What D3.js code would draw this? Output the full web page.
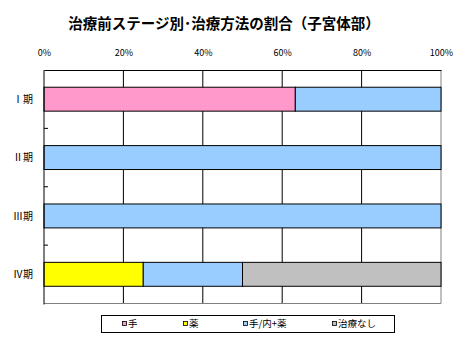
<!DOCTYPE html>
<html>
<head>
<meta charset="utf-8">
<script src="https://cdn.jsdelivr.net/npm/d3@7"></script>
<style>
  html, body { margin: 0; padding: 0; background: #fff; }
  svg { display: block; }
  text { font-family: "Noto Sans CJK JP", "Noto Sans", sans-serif; fill: #000; }
</style>
</head>
<body>
<svg id="chart" width="472" height="340"></svg>
<script>
// Stages (rows) and treatment shares per stage, in percent
const stages = ["Ⅰ期", "Ⅱ期", "Ⅲ期", "Ⅳ期"];
const seriesNames = ["手", "薬", "手/内+薬", "治療なし"];
const seriesColors = ["#FF99CC", "#FFFF00", "#99CCFF", "#C0C0C0"];
const shareSurgery   = [63.3, 0, 0, 0];     // 手
const shareDrug      = [0, 0, 0, 25];       // 薬
const shareCombined  = [36.7, 100, 100, 25];// 手/内+薬
const shareNone      = [0, 0, 0, 50];       // 治療なし
const xTickValues = [0, 20, 40, 60, 80, 100];
const xTickLabels = ["0%", "20%", "40%", "60%", "80%", "100%"];
const titleText = "治療前ステージ別･治療方法の割合（子宮体部）";

const svg = d3.select("#chart");
const plot = { left: 44, right: 441, top: 70, bottom: 303.5 };

const x = d3.scaleLinear().domain([0, 100]).range([plot.left, plot.right]);
const y = d3.scaleBand().domain(stages).range([plot.top, plot.bottom]).paddingInner(0.59).paddingOuter(0.295);

// Title
svg.append("text")
  .attr("x", 224).attr("y", 29)
  .attr("text-anchor", "middle")
  .attr("font-size", "14.5px").attr("font-weight", "bold")
  .text(titleText);

// Vertical gridlines
svg.append("g").selectAll("line")
  .data(xTickValues.filter(v => v > 0 && v < 100))
  .join("line")
  .attr("x1", d => x(d)).attr("x2", d => x(d))
  .attr("y1", plot.top).attr("y2", plot.bottom)
  .attr("stroke", "#000").attr("stroke-width", 1);

// Plot border: gray right and bottom edges
svg.append("line")
  .attr("x1", x(100)).attr("x2", x(100))
  .attr("y1", plot.top).attr("y2", plot.bottom)
  .attr("stroke", "#808080");
svg.append("line")
  .attr("x1", plot.left).attr("x2", x(100))
  .attr("y1", plot.bottom).attr("y2", plot.bottom)
  .attr("stroke", "#808080");

// Stacked bars
const rows = stages.map((s, i) => ({
  stage: s,
  values: [shareSurgery[i], shareDrug[i], shareCombined[i], shareNone[i]]
}));
const segments = [];
rows.forEach(r => {
  let acc = 0;
  r.values.forEach((v, k) => {
    if (v > 0) segments.push({ stage: r.stage, x0: acc, x1: acc + v, k });
    acc += v;
  });
});
svg.append("g").selectAll("rect")
  .data(segments)
  .join("rect")
  .attr("x", d => x(d.x0))
  .attr("width", d => x(d.x1) - x(d.x0))
  .attr("y", d => y(d.stage))
  .attr("height", y.bandwidth())
  .attr("fill", d => seriesColors[d.k])
  .attr("stroke", "#000").attr("stroke-width", 1);

// Top value axis
const xAxis = d3.axisTop(x)
  .tickValues(xTickValues)
  .tickFormat((d, i) => xTickLabels[i])
  .tickSize(0).tickPadding(14);
const gx = svg.append("g").attr("transform", `translate(0,${plot.top})`).call(xAxis);
gx.select(".domain").attr("stroke", "#000");
gx.selectAll("text").attr("font-size", "9px").attr("font-family", "'Noto Sans CJK JP', sans-serif");

// Left category axis line with inward ticks at band boundaries
svg.append("line")
  .attr("x1", plot.left).attr("x2", plot.left)
  .attr("y1", plot.top).attr("y2", plot.bottom + 1)
  .attr("stroke", "#000");
const step = y.step();
svg.append("g").selectAll("line")
  .data(stages.slice(1))
  .join("line")
  .attr("x1", plot.left).attr("x2", plot.left + 4)
  .attr("y1", d => y(d) - step * 0.295)
  .attr("y2", d => y(d) - step * 0.295)
  .attr("stroke", "#000");

// Category labels
svg.append("g").selectAll("text")
  .data(stages)
  .join("text")
  .attr("x", 33)
  .attr("y", d => y(d) + y.bandwidth() / 2)
  .attr("dy", "0.36em")
  .attr("text-anchor", "end")
  .attr("font-size", "10px")
  .text(d => d);

// Legend
const legend = svg.append("g");
legend.append("rect")
  .attr("x", 101.5).attr("y", 315.5)
  .attr("width", 293).attr("height", 17)
  .attr("fill", "#fff").attr("stroke", "#000");
const legendX = [122, 183, 243, 332];
const items = legend.selectAll("g.item")
  .data(seriesNames)
  .join("g").attr("class", "item")
  .attr("transform", (d, i) => `translate(${legendX[i]},324)`);
items.append("rect")
  .attr("x", 0.5).attr("y", -2.5)
  .attr("width", 4).attr("height", 4)
  .attr("fill", (d, i) => seriesColors[i])
  .attr("stroke", "#000").attr("stroke-width", 0.8);
items.append("text")
  .attr("x", 6).attr("y", 0)
  .attr("dy", "0.36em")
  .attr("font-size", "9.5px")
  .text(d => d);
</script>
</body>
</html>
